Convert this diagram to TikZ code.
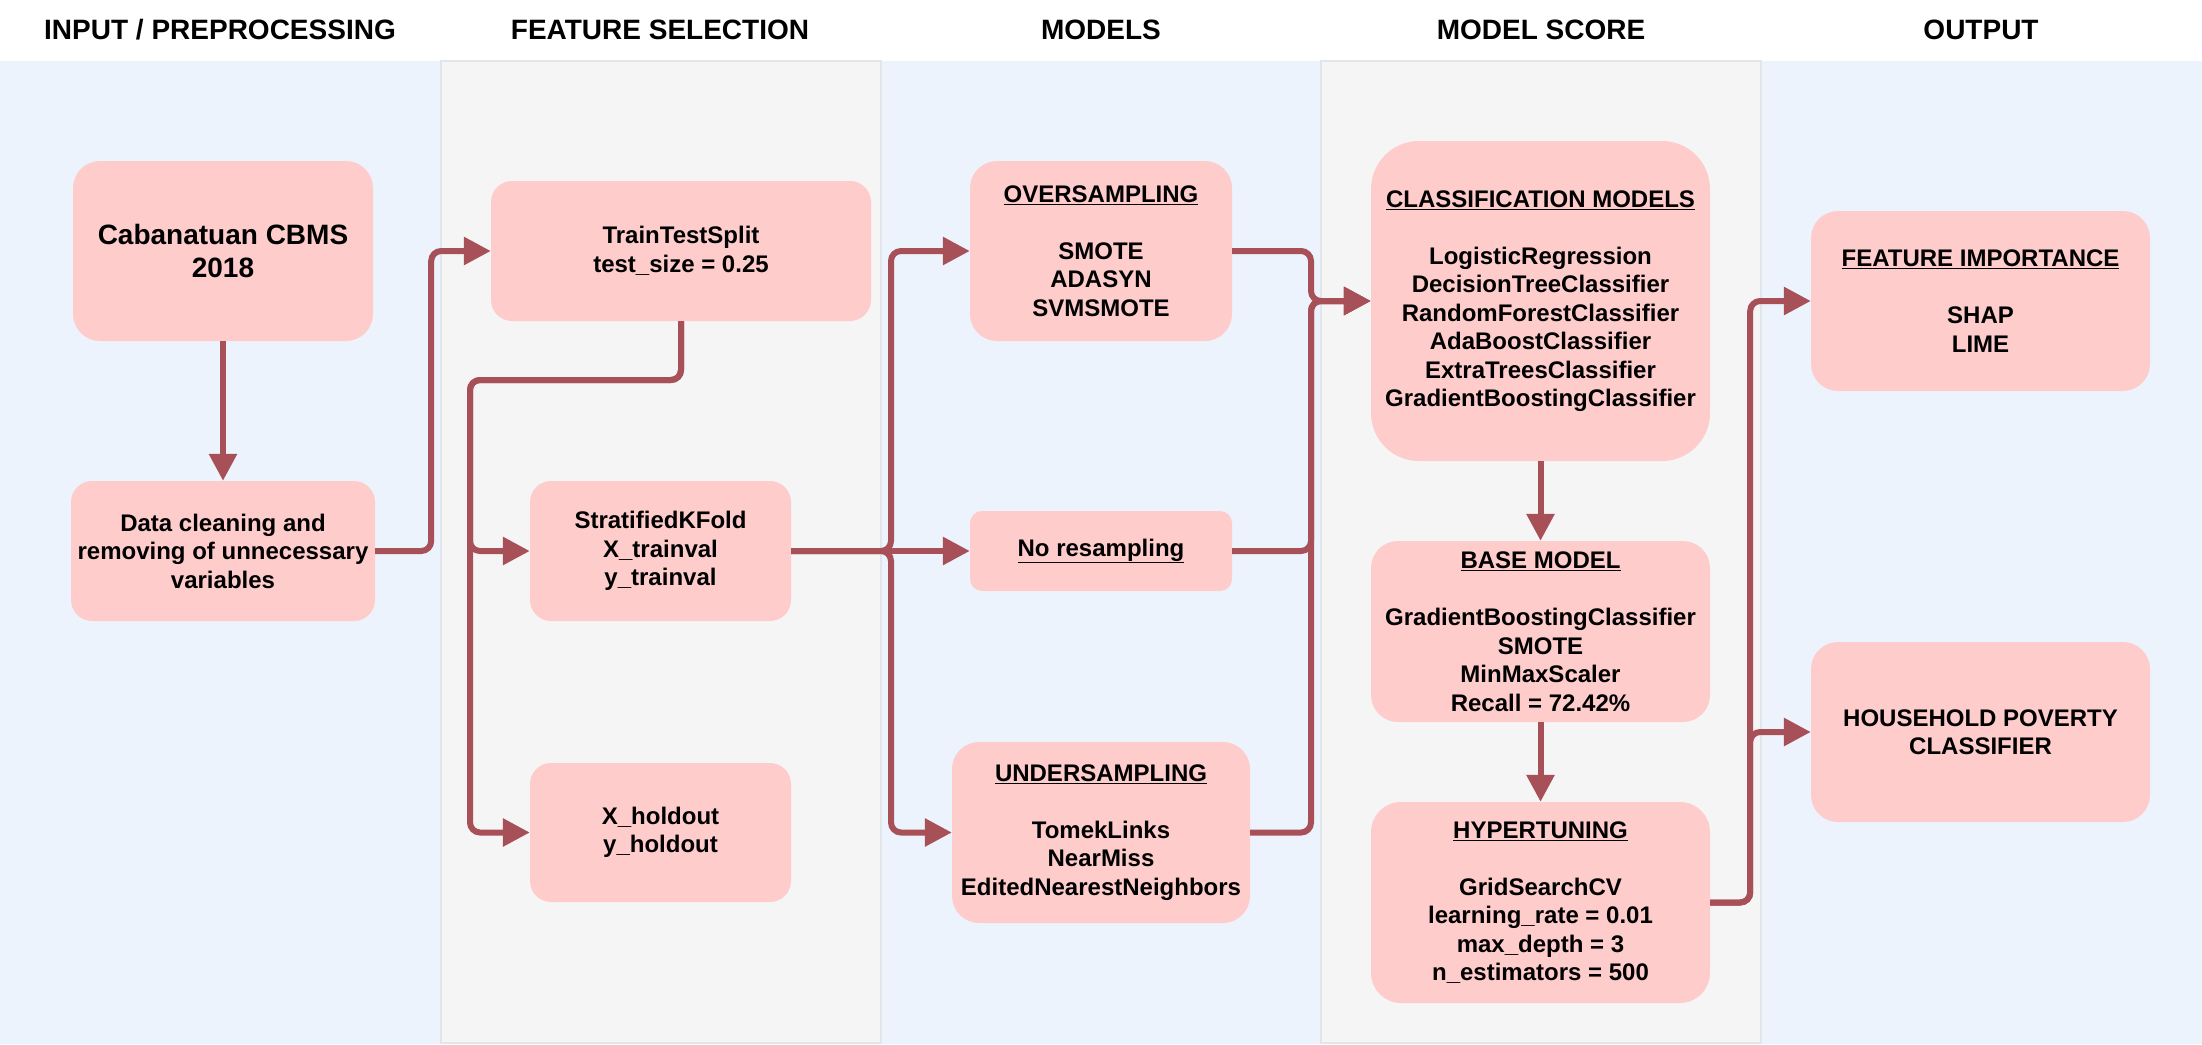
\documentclass[tikz,border=0pt]{standalone}
\usepackage{fontspec}
\setmainfont{Liberation Sans}
\usetikzlibrary{arrows.meta}

\definecolor{bgblue}{RGB}{237,243,252}
\definecolor{colgray}{RGB}{245,245,245}
\definecolor{colline}{RGB}{226,229,234}
\definecolor{boxpink}{RGB}{255,204,204}
\definecolor{arrowred}{RGB}{168,80,88}

\newcommand{\boxfont}{\fontsize{24}{28.5}\selectfont\bfseries}
\newcommand{\bigfont}{\fontsize{28}{32.5}\selectfont\bfseries}
\newcommand{\boxtitle}[1]{\underline{#1}}

\tikzset{
    pbox/.style n args={3}{fill=boxpink, minimum width=#1pt, minimum height=#2pt,
        rounded corners=#3pt, inner sep=0pt, align=center, font=\boxfont},
    head/.style={font=\bigfont},
    arr/.style={draw=arrowred, line width=6pt, rounded corners=10pt,
        -{Triangle[length=27pt,width=27pt]}},
}

\begin{document}
\begin{tikzpicture}[x=1pt,y=-1pt]
    \useasboundingbox (0,0) rectangle (2202,1044);

    % lanes
    \fill[bgblue] (0,61) rectangle (2202,1044);
    \draw[colline,fill=colgray,line width=2pt] (441,61) rectangle (881,1043);
    \draw[colline,fill=colgray,line width=2pt] (1321,61) rectangle (1761,1043);

    \node[head] (h1) at (220,30) {INPUT / PREPROCESSING};
    \node[head] (h2) at (660,30) {FEATURE SELECTION};
    \node[head] (h3) at (1101,30) {MODELS};
    \node[head] (h4) at (1541,30) {MODEL SCORE};
    \node[head] (h5) at (1981,30) {OUTPUT};

    % boxes
    \node[pbox={300}{180}{27}, font=\bigfont] (cbms) at (223,251) {Cabanatuan CBMS\\2018};
    \node[pbox={304}{140}{21}] (clean) at (223,551) {Data cleaning and\\removing of unnecessary\\variables};

    \node[pbox={380}{140}{21}] (split) at (681,251) {TrainTestSplit\\test\_size = 0.25};
    \node[pbox={261}{140}{21}] (strat) at (660.5,551) {StratifiedKFold\\X\_trainval\\y\_trainval};
    \node[pbox={261}{139}{21}] (hold) at (660.5,832.5) {X\_holdout\\y\_holdout};

    \node[pbox={262}{180}{27}] (over) at (1101,251)
        {\boxtitle{OVERSAMPLING}\\[28.5pt]SMOTE\\ADASYN\\SVMSMOTE};
    \node[pbox={262}{80}{12}] (nores) at (1101,551) {\boxtitle{No resampling}};
    \node[pbox={298}{181}{27}] (under) at (1101,832.5)
        {\boxtitle{UNDERSAMPLING}\\[28.5pt]TomekLinks\\NearMiss\\EditedNearestNeighbors};

    \node[pbox={339}{320}{48}] (classif) at (1540.5,301)
        {\boxtitle{CLASSIFICATION MODELS}\\[28.5pt]LogisticRegression\\DecisionTreeClassifier\\
         RandomForestClassifier\\AdaBoostClassifier\\ExtraTreesClassifier\\GradientBoostingClassifier};
    \node[pbox={339}{181}{27}] (base) at (1540.5,631.5)
        {\boxtitle{BASE MODEL}\\[28.5pt]GradientBoostingClassifier\\SMOTE\\MinMaxScaler\\Recall = 72.42\%};
    \node[pbox={339}{201}{30}] (hyper) at (1540.5,902.5)
        {\boxtitle{HYPERTUNING}\\[28.5pt]GridSearchCV\\learning\_rate = 0.01\\max\_depth = 3\\n\_estimators = 500};

    \node[pbox={339}{180}{27}] (feat) at (1980.5,301) {\boxtitle{FEATURE IMPORTANCE}\\[28.5pt]SHAP\\LIME};
    \node[pbox={339}{180}{27}] (house) at (1980.5,732) {HOUSEHOLD POVERTY\\CLASSIFIER};

    % junctions
    \coordinate (s1) at (470,380);
    \coordinate (s2) at (891,551);
    \coordinate (s3) at (1311,301);

    % connectors
    \draw[arr] (cbms) -- (clean);
    \draw[arr] (clean.east) -- ++(56,0) |- (split.west);

    \draw[arr] (split.south) |- (s1) |- (strat.west);
    \draw[arr] (split.south) |- (s1) |- (hold.west);

    \draw[arr] (strat.east) -- (s2) |- (over.west);
    \draw[arr] (strat.east) -- (nores.west);
    \draw[arr] (strat.east) -- (s2) |- (under.west);

    \draw[arr] (over.east) -| (s3) -- (classif.west);
    \draw[arr] (nores.east) -| (s3) -- (classif.west);
    \draw[arr] (under.east) -| (s3) -- (classif.west);

    \draw[arr] (classif) -- (base);
    \draw[arr] (base) -- (hyper);

    \draw[arr] (hyper.east) -- ++(40,0) |- (feat.west);
    \draw[arr] (hyper.east) -- ++(40,0) |- (house.west);
\end{tikzpicture}
\end{document}
